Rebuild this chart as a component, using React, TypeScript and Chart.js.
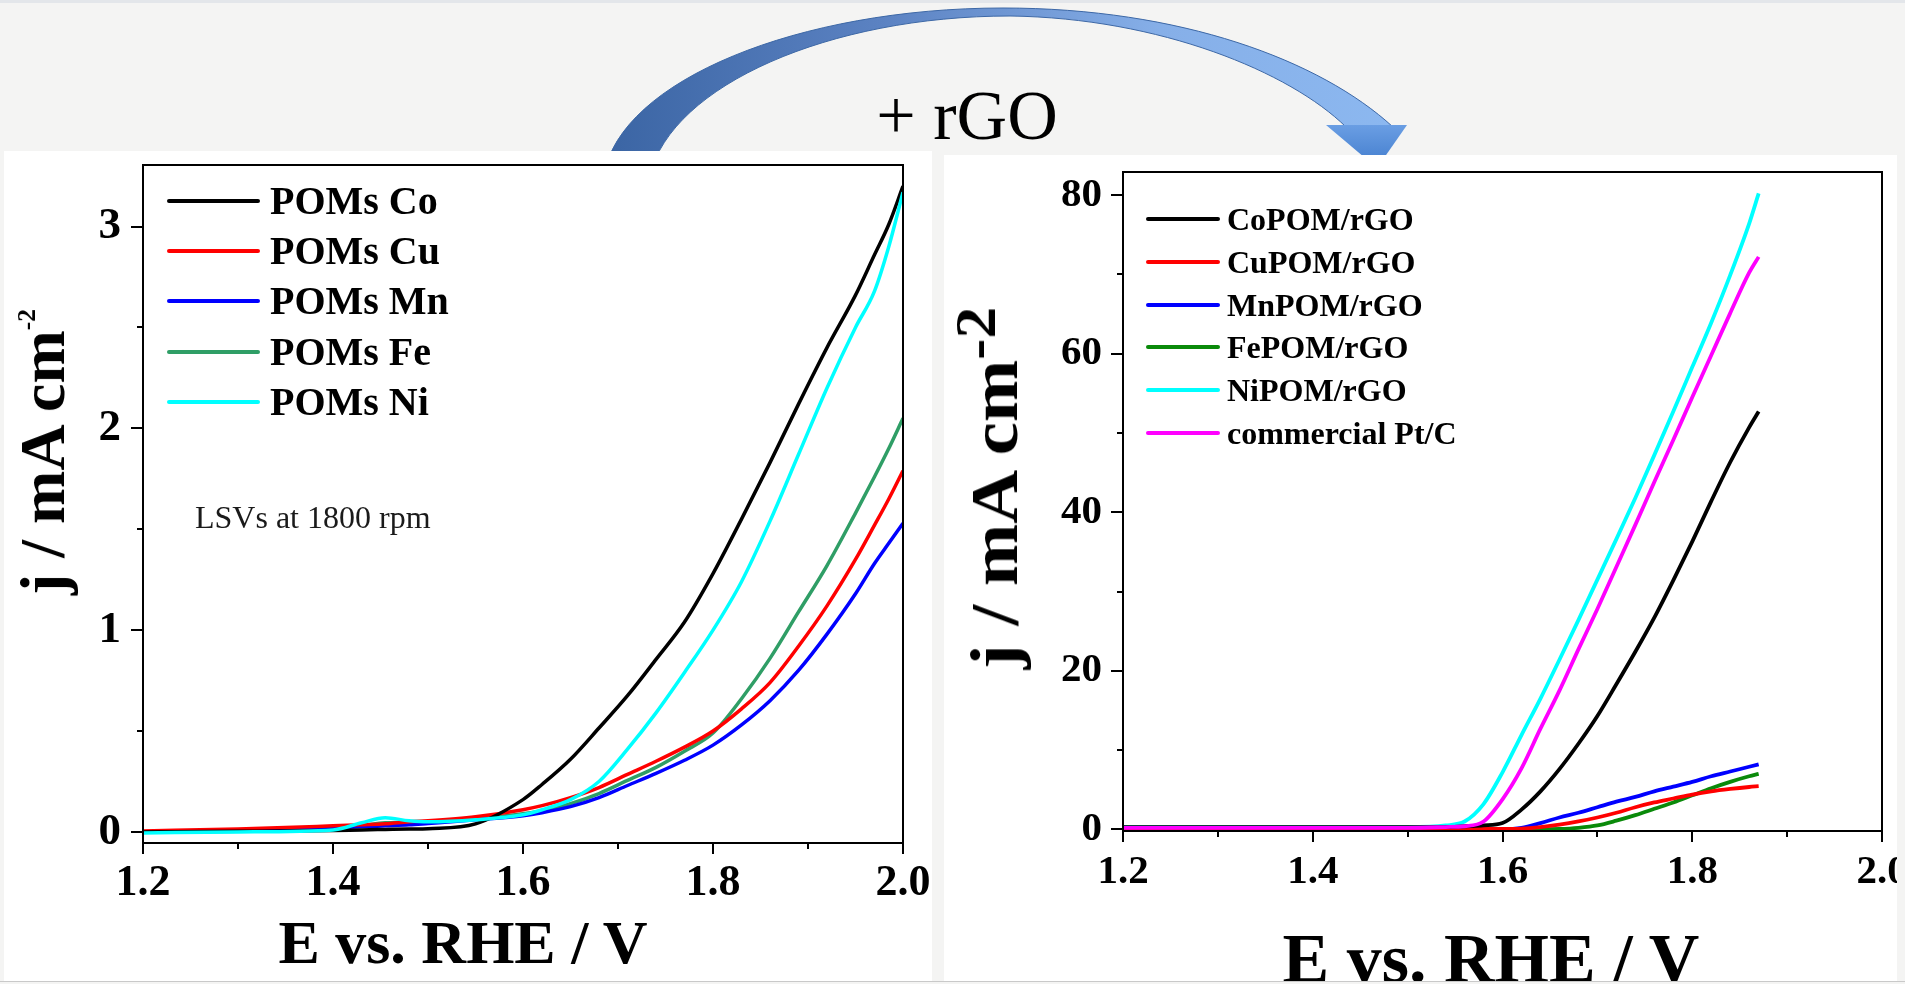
import React, { useEffect, useRef } from 'react';
import { Chart, registerables } from 'chart.js';

Chart.register(...registerables);

const FONT = '"Liberation Serif", "Times New Roman", Times, serif';

// ---------- Left chart (POMs) ----------
const leftE = [1.2, 1.3, 1.4, 1.43, 1.455, 1.48, 1.5, 1.55, 1.6, 1.62, 1.65, 1.68, 1.71, 1.74, 1.77, 1.8, 1.83, 1.86, 1.89, 1.92, 1.95, 1.97, 1.985, 2.0];
const leftCo = [0.0, 0.003, 0.007, 0.01, 0.012, 0.014, 0.016, 0.04, 0.16, 0.235, 0.36, 0.515, 0.675, 0.855, 1.04, 1.28, 1.55, 1.83, 2.12, 2.4, 2.66, 2.86, 3.01, 3.2];
const leftCu = [0.005, 0.015, 0.03, 0.035, 0.04, 0.05, 0.055, 0.075, 0.11, 0.13, 0.17, 0.22, 0.285, 0.35, 0.42, 0.5, 0.61, 0.74, 0.92, 1.12, 1.35, 1.52, 1.65, 1.79];
const leftMn = [0.0, 0.008, 0.02, 0.025, 0.03, 0.035, 0.042, 0.06, 0.08, 0.095, 0.125, 0.17, 0.23, 0.29, 0.355, 0.43, 0.53, 0.65, 0.8, 0.98, 1.18, 1.33, 1.43, 1.53];
const leftFe = [0.0, 0.008, 0.02, 0.03, 0.045, 0.045, 0.048, 0.065, 0.09, 0.105, 0.14, 0.19, 0.255, 0.32, 0.4, 0.49, 0.66, 0.86, 1.09, 1.32, 1.58, 1.76, 1.9, 2.05];
const leftNi = [-0.005, 0.0, 0.01, 0.045, 0.07, 0.055, 0.05, 0.06, 0.085, 0.11, 0.16, 0.25, 0.41, 0.59, 0.79, 1.0, 1.24, 1.54, 1.87, 2.2, 2.5, 2.68, 2.9, 3.17];
const leftNames = ['POMs Co', 'POMs Cu', 'POMs Mn', 'POMs Fe', 'POMs Ni'];
const leftColors = ['#000000', '#ff0000', '#0000ff', '#2f9e66', '#00ffff'];
const leftXTicks = [1.2, 1.4, 1.6, 1.8, 2.0];
const leftXMinor = [1.3, 1.5, 1.7, 1.9];
const leftYTicks = [0, 1, 2, 3];
const leftYMinor = [0.5, 1.5, 2.5];

// ---------- Right chart (POM/rGO) ----------
const rightE = [1.2, 1.3, 1.4, 1.5, 1.54, 1.56, 1.58, 1.6, 1.62, 1.64, 1.66, 1.68, 1.7, 1.72, 1.74, 1.76, 1.78, 1.8, 1.82, 1.84, 1.86, 1.87];
const rightCo = [0.3, 0.3, 0.3, 0.3, 0.3, 0.4, 0.5, 0.8, 2.5, 4.8, 7.6, 10.8, 14.3, 18.3, 22.4, 26.7, 31.4, 36.3, 41.4, 46.3, 50.7, 52.7];
const rightCu = [0.05, 0.05, 0.05, 0.05, 0.05, 0.05, 0.05, 0.05, 0.1, 0.3, 0.6, 1.0, 1.5, 2.1, 2.8, 3.4, 3.9, 4.4, 4.8, 5.1, 5.35, 5.45];
const rightMn = [0.05, 0.05, 0.05, 0.05, 0.05, 0.05, 0.05, 0.05, 0.2, 0.8, 1.5, 2.1, 2.8, 3.5, 4.1, 4.8, 5.4, 6.0, 6.7, 7.3, 7.9, 8.2];
const rightFe = [0, 0, 0, 0, 0, 0, 0, 0, 0, 0, 0.05, 0.2, 0.5, 1.1, 1.8, 2.6, 3.4, 4.3, 5.2, 6.0, 6.7, 7.0];
const rightNi = [0.3, 0.3, 0.3, 0.3, 0.5, 1.0, 3.2, 7.2, 11.9, 16.5, 21.4, 26.4, 31.5, 36.6, 41.8, 47.2, 52.7, 58.3, 63.9, 69.9, 76.4, 80.2];
const rightPt = [0.2, 0.2, 0.2, 0.2, 0.3, 0.4, 1.0, 3.8, 7.7, 12.7, 17.5, 22.7, 27.8, 33.1, 38.4, 43.8, 49.1, 54.5, 59.8, 65.1, 70.2, 72.2];
const rightNames = ['CoPOM/rGO', 'CuPOM/rGO', 'MnPOM/rGO', 'FePOM/rGO', 'NiPOM/rGO', 'commercial Pt/C'];
const rightColors = ['#000000', '#ff0000', '#0000ff', '#0a8a0a', '#00ffff', '#ff00ff'];
const rightXTicks = [1.2, 1.4, 1.6, 1.8, 2.0];
const rightXMinor = [1.3, 1.5, 1.7, 1.9];
const rightYTicks = [0, 20, 40, 60, 80];
const rightYMinor = [10, 30, 50, 70];

const framePlugin = {
  id: 'frameMinor',
  afterDraw(chart: any, _args: any, opts: any) {
    const { ctx, chartArea: a, scales } = chart;
    ctx.save();
    ctx.strokeStyle = '#000';
    ctx.lineWidth = 2;
    ctx.strokeRect(a.left, a.top, a.right - a.left, a.bottom - a.top);
    ctx.beginPath();
    (opts.xMinor || []).forEach((v: number) => {
      const px = Math.round(scales.x.getPixelForValue(v));
      ctx.moveTo(px, a.bottom);
      ctx.lineTo(px, a.bottom + opts.minorLen);
    });
    (opts.yMinor || []).forEach((v: number) => {
      const py = Math.round(scales.y.getPixelForValue(v));
      ctx.moveTo(a.left, py);
      ctx.lineTo(a.left - opts.minorLen, py);
    });
    ctx.stroke();
    ctx.restore();
  },
};

type Cfg = {
  E: number[];
  series: number[][];
  colors: string[];
  names: string[];
  topOrder: number;
  xTicks: number[];
  xMinor: number[];
  yTicks: number[];
  yMinor: number[];
  yMin: number;
  yMax: number;
  yWidth: number;
  xHeight: number;
  padTop: number;
  padRight: number;
  tickFont: number;
  yTickFont: number;
  xPad: number;
  yPad: number;
  lineWidth: number;
};

function zeroPad(s: any) {
  s.paddingTop = 0;
  s.paddingBottom = 0;
  s.paddingLeft = 0;
  s.paddingRight = 0;
}

function makeConfig(c: Cfg): any {
  return {
    type: 'line',
    data: {
      datasets: c.series.map((vals, i) => ({
        label: c.names[i],
        data: c.E.map((e, k) => ({ x: e, y: vals[k] })),
        borderColor: c.colors[i],
        backgroundColor: c.colors[i],
        borderWidth: c.lineWidth,
        pointRadius: 0,
        cubicInterpolationMode: 'monotone',
        fill: false,
        order: i === c.topOrder ? -1 : i,
      })),
    },
    options: {
      animation: false,
      responsive: false,
      devicePixelRatio: 1,
      layout: { autoPadding: false, padding: { top: c.padTop, right: c.padRight, left: 0, bottom: 0 } },
      plugins: {
        legend: { display: false },
        tooltip: { enabled: false },
        frameMinor: { xMinor: c.xMinor, yMinor: c.yMinor, minorLen: 6 },
      },
      scales: {
        x: {
          type: 'linear',
          min: 1.2,
          max: 2.0,
          afterBuildTicks: (s: any) => { s.ticks = c.xTicks.map((v) => ({ value: v })); },
          afterFit: (s: any) => { s.height = c.xHeight; zeroPad(s); },
          grid: { drawOnChartArea: false, drawTicks: true, tickLength: 11, color: '#000', lineWidth: 2 },
          border: { display: false },
          title: { display: false },
          ticks: {
            color: '#000',
            padding: c.xPad,
            autoSkip: false,
            maxRotation: 0,
            font: { family: FONT, size: c.tickFont, weight: 'bold' },
            callback: (v: any) => Number(v).toFixed(1),
          },
        },
        y: {
          type: 'linear',
          min: c.yMin,
          max: c.yMax,
          afterBuildTicks: (s: any) => { s.ticks = c.yTicks.map((v) => ({ value: v })); },
          afterFit: (s: any) => { s.width = c.yWidth; zeroPad(s); },
          grid: { drawOnChartArea: false, drawTicks: true, tickLength: 12, color: '#000', lineWidth: 2 },
          border: { display: false },
          title: { display: false },
          ticks: {
            color: '#000',
            padding: c.yPad,
            font: { family: FONT, size: c.yTickFont, weight: 'bold' },
            callback: (v: any) => String(v),
          },
        },
      },
    },
    plugins: [framePlugin],
  };
}

function ChartCanvas({ width, height, cfg }: { width: number; height: number; cfg: Cfg }) {
  const ref = useRef<HTMLCanvasElement>(null);
  useEffect(() => {
    const chart = new Chart(ref.current as HTMLCanvasElement, makeConfig(cfg));
    return () => chart.destroy();
  }, []);
  return (
    <canvas
      ref={ref}
      width={width}
      height={height}
      style={{ position: 'absolute', left: 0, top: 0, width, height }}
    />
  );
}

const leftCfg: Cfg = {
  E: leftE,
  series: [leftCo, leftCu, leftMn, leftFe, leftNi],
  colors: leftColors,
  names: leftNames,
  topOrder: 4,
  xTicks: leftXTicks,
  xMinor: leftXMinor,
  yTicks: leftYTicks,
  yMinor: leftYMinor,
  yMin: -0.055,
  yMax: 3.305,
  yWidth: 139,
  xHeight: 138,
  padTop: 14,
  padRight: 29,
  tickFont: 44,
  yTickFont: 45,
  xPad: 3,
  yPad: 10,
  lineWidth: 3.5,
};

const rightCfg: Cfg = {
  E: rightE,
  series: [rightCo, rightCu, rightMn, rightFe, rightNi, rightPt],
  colors: rightColors,
  names: rightNames,
  topOrder: 5,
  xTicks: rightXTicks,
  xMinor: rightXMinor,
  yTicks: rightYTicks,
  yMin: -0.2,
  yMax: 82.9,
  yMinor: rightYMinor,
  yWidth: 179,
  xHeight: 150,
  padTop: 17,
  padRight: 15,
  tickFont: 41,
  yTickFont: 41,
  xPad: 6,
  yPad: 9,
  lineWidth: 3.8,
};

function Legend({ names, colors, left, rows, lineLen, gap, fontSize }: any) {
  return (
    <>
      {names.map((n: string, i: number) => (
        <div
          key={n}
          style={{
            position: 'absolute',
            left,
            top: rows[i] - fontSize / 2,
            height: fontSize,
            display: 'flex',
            alignItems: 'center',
            whiteSpace: 'nowrap',
          }}
        >
          <div style={{ width: lineLen, height: 4, borderRadius: 2, background: colors[i], marginRight: gap }} />
          <span style={{ fontFamily: FONT, fontWeight: 'bold', fontSize, lineHeight: 1, color: '#000' }}>{n}</span>
        </div>
      ))}
    </>
  );
}

export default function App() {
  return (
    <div
      style={{
        position: 'fixed',
        left: 0,
        top: 0,
        width: 1905,
        height: 984,
        background: '#f4f4f3',
        overflow: 'hidden',
        fontFamily: FONT,
      }}
    >
      <div style={{ position: 'absolute', left: 0, top: 0, width: 1905, height: 3, background: '#e3e6ea' }} />
      <svg width={1905} height={984} style={{ position: 'absolute', left: 0, top: 0 }}>
        <defs>
          <linearGradient id="arcGrad" x1="600" y1="0" x2="1400" y2="0" gradientUnits="userSpaceOnUse">
            <stop offset="0" stopColor="#3a64a3" />
            <stop offset="0.35" stopColor="#5b82c2" />
            <stop offset="0.7" stopColor="#86afe8" />
            <stop offset="1" stopColor="#8cb8f0" />
          </linearGradient>
          <linearGradient id="headGrad" x1="0" y1="120" x2="0" y2="170" gradientUnits="userSpaceOnUse">
            <stop offset="0" stopColor="#6fa2e6" />
            <stop offset="1" stopColor="#3f7acb" />
          </linearGradient>
        </defs>
        <path
          d="M 604 175 C 620 80, 800 8, 1003 8 C 1180 8, 1320 60, 1393 127 L 1346 127 C 1290 72, 1160 18, 1010 16 C 830 16, 672 85, 650 175 Z"
          fill="url(#arcGrad)"
          stroke="#3d68a6"
          strokeWidth="1"
        />
        <path d="M 1326 125 L 1407 125 L 1377 168 Z" fill="url(#headGrad)" />
      </svg>
      <div
        style={{
          position: 'absolute',
          left: 967,
          top: 81,
          transform: 'translateX(-50%)',
          fontSize: 70,
          lineHeight: 1,
          whiteSpace: 'nowrap',
          color: '#000',
        }}
      >
        + rGO
      </div>

      {/* Left panel */}
      <div style={{ position: 'absolute', left: 4, top: 151, width: 928, height: 830, background: '#fff', overflow: 'hidden' }}>
        <ChartCanvas width={928} height={830} cfg={leftCfg} />
      </div>
      {/* Right panel */}
      <div style={{ position: 'absolute', left: 944, top: 155, width: 953, height: 826, background: '#fff', overflow: 'hidden' }}>
        <ChartCanvas width={953} height={826} cfg={rightCfg} />
        <div
          style={{
            position: 'absolute',
            left: 547,
            top: 769,
            transform: 'translateX(-50%)',
            fontSize: 70,
            fontWeight: 'bold',
            lineHeight: 1,
            whiteSpace: 'nowrap',
            color: '#000',
          }}
        >
          E vs. RHE / V
        </div>
      </div>

      {/* Left overlays */}
      <Legend names={leftNames} colors={leftColors} left={167} rows={[201, 251, 301, 352, 402]} lineLen={93} gap={10} fontSize={40} />
      <div style={{ position: 'absolute', left: 195, top: 501, fontSize: 32, lineHeight: 1, whiteSpace: 'nowrap', color: '#1a1a1a' }}>
        LSVs at 1800 rpm
      </div>
      <div
        style={{
          position: 'absolute',
          left: 43,
          top: 452,
          transform: 'translate(-50%, -50%) rotate(-90deg)',
          fontSize: 64,
          fontWeight: 'bold',
          lineHeight: 1,
          whiteSpace: 'nowrap',
          color: '#000',
        }}
      >
        j / mA cm<span style={{ fontSize: '0.4em', position: 'relative', top: '-1.15em' }}>-2</span>
      </div>
      <div
        style={{
          position: 'absolute',
          left: 463,
          top: 911,
          transform: 'translateX(-50%)',
          fontSize: 62,
          fontWeight: 'bold',
          lineHeight: 1,
          whiteSpace: 'nowrap',
          color: '#000',
        }}
      >
        E vs. RHE / V
      </div>

      {/* Right overlays */}
      <Legend names={rightNames} colors={rightColors} left={1146} rows={[219, 262, 305, 347, 390, 433]} lineLen={74} gap={7} fontSize={32} />
      <div
        style={{
          position: 'absolute',
          left: 994,
          top: 488,
          transform: 'translate(-50%, -50%) rotate(-90deg) scaleX(1.1)',
          fontSize: 68,
          fontWeight: 'bold',
          lineHeight: 1,
          whiteSpace: 'nowrap',
          color: '#000',
        }}
      >
        j / mA cm<span style={{ fontSize: '0.85em', position: 'relative', top: '-0.38em' }}>-2</span>
      </div>

      <div style={{ position: 'absolute', left: 0, top: 981, width: 1905, height: 1, background: '#c9c9c9' }} />
    </div>
  );
}
